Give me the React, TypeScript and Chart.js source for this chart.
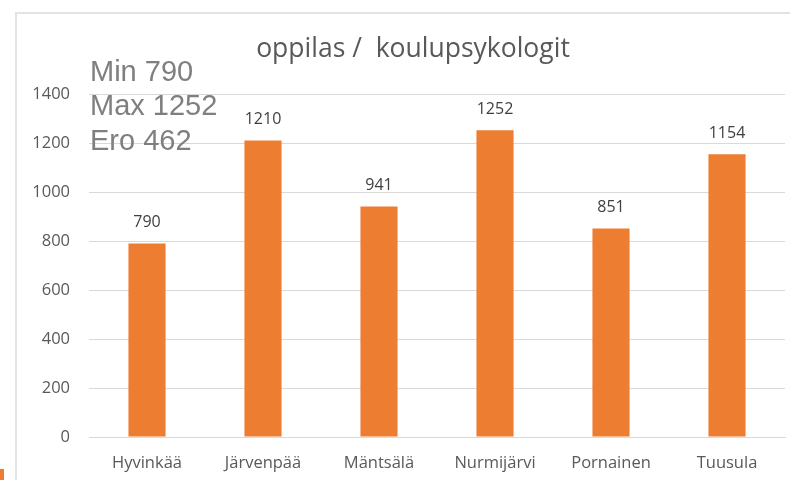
import React, { useEffect, useRef } from "react";
import { Chart, registerables } from "chart.js";

Chart.register(...registerables);

const categories = ["Hyvinkää", "Järvenpää", "Mäntsälä", "Nurmijärvi", "Pornainen", "Tuusula"];
const values = [790, 1210, 941, 1252, 851, 1154];
const titleText = "oppilas /  koulupsykologit";
const noteLines = ["Min 790", "Max 1252", "Ero 462"];
const yMin = 0;
const yMax = 1400;
const yStep = 200;

const FONT = "'Open Sans', 'Liberation Sans', sans-serif";

const decorPlugin = {
  id: "decor",
  beforeDraw(chart: any) {
    const ctx = chart.ctx;
    ctx.save();
    ctx.fillStyle = "#ffffff";
    ctx.fillRect(0, 0, chart.width, chart.height);
    ctx.strokeStyle = "#e3e3e3";
    ctx.lineWidth = 2;
    ctx.beginPath();
    ctx.moveTo(16, chart.height);
    ctx.lineTo(16, 13);
    ctx.lineTo(chart.width, 13);
    ctx.stroke();
    ctx.fillStyle = "#ED7D31";
    ctx.fillRect(0, 469, 4, 11);
    ctx.restore();
  },
  afterDraw(chart: any) {
    const ctx = chart.ctx;
    ctx.save();
    ctx.fillStyle = "#595959";
    ctx.font = `26.5px ${FONT}`;
    ctx.textAlign = "center";
    ctx.textBaseline = "alphabetic";
    ctx.fillText(titleText, 413, 57);
    ctx.fillStyle = "#7f7f7f";
    ctx.font = "29px 'Liberation Sans', Arial, sans-serif";
    ctx.textAlign = "left";
    const baselines = [81, 115, 150];
    noteLines.forEach((t, i) => ctx.fillText(t, 90, baselines[i]));
    const meta = chart.getDatasetMeta(0);
    ctx.fillStyle = "#404040";
    ctx.font = `16px ${FONT}`;
    ctx.textAlign = "center";
    ctx.textBaseline = "middle";
    meta.data.forEach((bar: any, i: number) => {
      ctx.fillText(String(values[i]), bar.x, bar.y - 21);
    });
    ctx.restore();
  },
};

export default function App() {
  const ref = useRef<HTMLCanvasElement | null>(null);
  useEffect(() => {
    if (!ref.current) return;
    const chart = new Chart(ref.current, {
      type: "bar",
      data: {
        labels: categories,
        datasets: [
          {
            data: values,
            backgroundColor: "#ED7D31",
            borderWidth: 0,
            barPercentage: 0.32,
            categoryPercentage: 1,
          },
        ],
      },
      options: {
        responsive: false,
        animation: false,
        layout: { padding: { left: 0, right: 5, top: 94, bottom: 0 } },
        plugins: { legend: { display: false }, tooltip: { enabled: false }, title: { display: false } },
        scales: {
          x: {
            grid: { display: false, drawTicks: false },
            border: { display: true, color: "#d9d9d9", width: 1 },
            ticks: { color: "#595959", font: { family: FONT, size: 16.5 }, padding: 16, maxRotation: 0 },
            afterFit: (s: any) => {
              s.height = 43;
            },
          },
          y: {
            min: yMin,
            max: yMax,
            grid: { color: "#d9d9d9", lineWidth: 1, drawTicks: false },
            border: { display: false },
            ticks: {
              stepSize: yStep,
              color: "#595959",
              font: { family: FONT, size: 16.5 },
              padding: 19,
              callback: (v: any) => String(v),
            },
            afterFit: (s: any) => {
              s.width = 89;
            },
          },
        },
      },
      plugins: [decorPlugin],
    });
    return () => chart.destroy();
  }, []);
  return (
    <div style={{ position: "fixed", left: 0, top: 0, width: 790, height: 480, overflow: "hidden", background: "#fff" }}>
      <canvas ref={ref} width={790} height={480} style={{ display: "block" }} />
    </div>
  );
}
